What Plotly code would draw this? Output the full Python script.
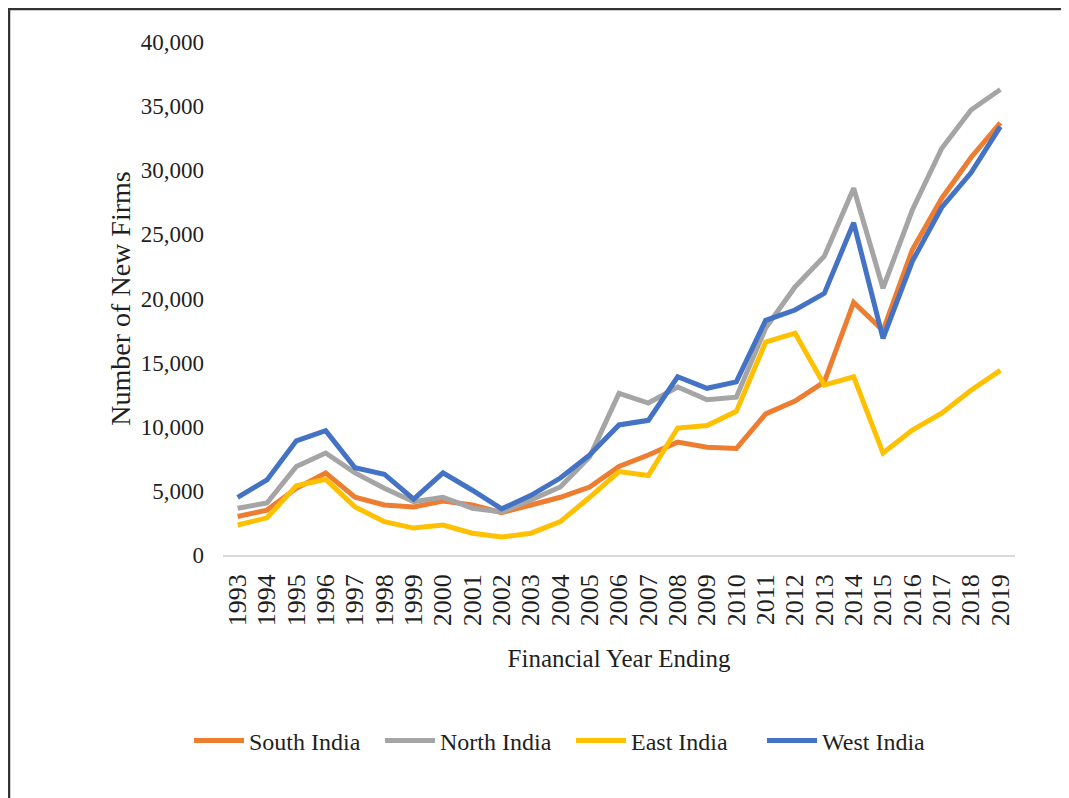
import plotly.graph_objects as go

years = [str(y) for y in range(1993, 2020)]
south_india = [3000, 3500, 5200, 6400, 4500, 3900, 3750, 4200, 3900, 3300, 3900, 4500, 5300, 6900, 7800,
               8800, 8400, 8300, 11000, 12000, 13500, 19700, 17500, 23800, 27800, 31000, 33700]
north_india = [3650, 4050, 6900, 7950, 6400, 5200, 4150, 4500, 3650, 3350, 4300, 5300, 7650, 12600, 11850,
               13100, 12100, 12300, 17700, 20900, 23300, 28600, 20800, 26900, 31700, 34700, 36300]
east_india = [2340, 2900, 5400, 5900, 3750, 2600, 2100, 2340, 1700, 1400, 1700, 2600, 4500, 6500, 6200,
              9900, 10100, 11200, 16600, 17300, 13250, 13900, 7950, 9750, 11050, 12850, 14400]
west_india = [4500, 5850, 8900, 9700, 6800, 6300, 4350, 6400, 5050, 3600, 4650, 6000, 7800, 10140, 10500,
              13900, 13000, 13500, 18300, 19100, 20400, 25900, 16900, 22900, 27100, 29800, 33400]
y_ticks = [0, 5000, 10000, 15000, 20000, 25000, 30000, 35000, 40000]
y_tick_labels = ["0", "5,000", "10,000", "15,000", "20,000", "25,000", "30,000", "35,000", "40,000"]

series = [
    ("South India", south_india, "#ED7D31"),
    ("North India", north_india, "#A5A5A5"),
    ("East India", east_india, "#FFC000"),
    ("West India", west_india, "#4472C4"),
]

# page has an 8px body margin; figure coordinates are page coordinates minus 8
OFF = 8
W, H = 1069 - OFF, 798 - OFF
ML, MR, MT, MB = 215, 54, 34, 243
PW = W - ML - MR
PH = H - MT - MB

FONT = "Liberation Serif"
TXT = "#1f1f1f"

fig = go.Figure()
for name, vals, col in series:
    fig.add_trace(go.Scatter(x=years, y=vals, mode="lines", name=name,
                             line=dict(color=col, width=5)))


def px_x(p):
    return (p - ML) / PW


def px_y(p):
    return (H - MB - p) / PH


fig.update_layout(
    width=W, height=H,
    margin=dict(l=ML, r=MR, t=MT, b=MB, pad=0),
    paper_bgcolor="white", plot_bgcolor="white",
    font=dict(family=FONT, color=TXT, size=24),
    showlegend=True,
    legend=dict(orientation="h", x=px_x(181), xanchor="left", y=px_y(733), yanchor="middle",
                font=dict(family=FONT, size=24, color=TXT), itemwidth=50,
                entrywidth=126, entrywidthmode="pixels",
                bgcolor="rgba(0,0,0,0)", tracegroupgap=0),
    xaxis=dict(type="category", range=[-0.5, 26.5], tickangle=-90,
               tickmode="array", tickvals=years, ticktext=years,
               showgrid=False, showline=True, linecolor="#D9D9D9", linewidth=1.5,
               ticks="", tickfont=dict(family=FONT, size=26, color=TXT),
               ticklabelstandoff=7,
               title=dict(text="Financial Year Ending", font=dict(family=FONT, size=25, color=TXT),
                          standoff=24)),
    yaxis=dict(range=[0, 40000], tickvals=y_ticks, ticktext=y_tick_labels,
               showgrid=False, zeroline=False, showline=False, ticks="",
               tickfont=dict(family=FONT, size=23, color=TXT),
               ticklabelstandoff=18,
               title=dict(text="Number of New Firms", font=dict(family=FONT, size=28, color=TXT),
                          standoff=1)),
)

# outer frame (left and top edges)
fig.add_shape(type="line", xref="paper", yref="paper", x0=px_x(0), x1=px_x(W + 5), y0=px_y(1), y1=px_y(1),
              line=dict(color="#333333", width=2.5))
fig.add_shape(type="line", xref="paper", yref="paper", x0=px_x(1), x1=px_x(1), y0=px_y(0), y1=px_y(H + 5),
              line=dict(color="#333333", width=2.5))

fig.write_html("out.html")
